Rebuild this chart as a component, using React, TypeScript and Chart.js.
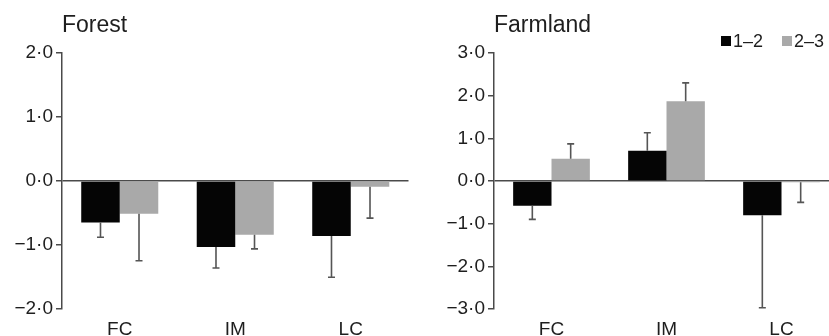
import React, { useEffect, useRef } from 'react';
import { Chart, registerables } from 'chart.js';
Chart.register(...registerables);

const categories = ['FC', 'IM', 'LC'];
const seriesLabels = ['1–2', '2–3'];
const seriesColors = ['#050505', '#a9a9a9'];

const forest12 = [-0.65, -1.03, -0.86];
const forest12Err = [0.23, 0.33, 0.645];
const forest23 = [-0.51, -0.84, -0.09];
const forest23Err = [0.735, 0.22, 0.49];

const farm12 = [-0.58, 0.71, -0.8];
const farm12Err = [0.32, 0.42, 2.17];
const farm23 = [0.52, 1.87, -0.03];
const farm23Err = [0.35, 0.43, 0.47];

const forestTicks = [-2, -1, 0, 1, 2];
const farmTicks = [-3, -2, -1, 0, 1, 2, 3];

const FONT = "'Liberation Sans', Arial, sans-serif";
const AXIS_COLOR = '#4a4a4a';
const TEXT_COLOR = '#1e1e1e';

const fmt = (v: number) => (v < 0 ? '−' : '') + Math.abs(v).toFixed(1).replace('.', '·');

const errorBarPlugin = {
  id: 'errorBars',
  afterDatasetsDraw(chart: any) {
    const ctx = chart.ctx;
    const yScale = chart.scales.y;
    ctx.save();
    chart.data.datasets.forEach((ds: any, i: number) => {
      const meta = chart.getDatasetMeta(i);
      meta.data.forEach((el: any, j: number) => {
        const v = ds.data[j];
        const e = ds.errors[j];
        const end = v + (v >= 0 ? e : -e);
        const yEnd = yScale.getPixelForValue(end);
        ctx.strokeStyle = '#555555';
        ctx.lineWidth = 1.6;
        ctx.beginPath();
        ctx.moveTo(el.x, el.y);
        ctx.lineTo(el.x, yEnd);
        ctx.moveTo(el.x - 3.5, yEnd);
        ctx.lineTo(el.x + 3.5, yEnd);
        ctx.stroke();
      });
    });
    ctx.restore();
  },
};

const titlePlugin = {
  id: 'panelTitle',
  afterDraw(chart: any, _args: any, opts: any) {
    const ctx = chart.ctx;
    ctx.save();
    ctx.font = `23px ${FONT}`;
    ctx.fillStyle = TEXT_COLOR;
    ctx.textBaseline = 'alphabetic';
    ctx.textAlign = 'left';
    ctx.fillText(opts.text, chart.chartArea.left, 31.5);
    ctx.restore();
  },
};

const legendPlugin = {
  id: 'customLegend',
  afterDraw(chart: any, _args: any, opts: any) {
    if (!opts.show) return;
    const ctx = chart.ctx;
    ctx.save();
    ctx.font = `18px ${FONT}`;
    ctx.textBaseline = 'alphabetic';
    ctx.textAlign = 'left';
    let x = opts.x;
    chart.data.datasets.forEach((ds: any) => {
      ctx.fillStyle = ds.backgroundColor;
      ctx.fillRect(x, 36, 10, 10);
      ctx.fillStyle = TEXT_COLOR;
      ctx.fillText(ds.label, x + 12, 46.5);
      x += 61;
    });
    ctx.restore();
  },
};

function Panel(props: {
  title: string;
  s1: number[]; e1: number[]; s2: number[]; e2: number[];
  ticks: number[];
  width: number; axisWidth: number; padRight: number; legend: boolean; legendX: number;
}) {
  const ref = useRef<HTMLCanvasElement>(null);
  useEffect(() => {
    const { s1, e1, s2, e2, ticks } = props;
    const chart = new Chart(ref.current as HTMLCanvasElement, {
      type: 'bar',
      data: {
        labels: categories,
        datasets: [
          { label: seriesLabels[0], data: s1, errors: e1, backgroundColor: seriesColors[0], borderWidth: 0 } as any,
          { label: seriesLabels[1], data: s2, errors: e2, backgroundColor: seriesColors[1], borderWidth: 0 } as any,
        ],
      },
      options: {
        responsive: false,
        animation: false,
        devicePixelRatio: 1,
        layout: { padding: { top: 53, right: props.padRight, left: 0, bottom: 0 } },
        datasets: { bar: { categoryPercentage: 0.667, barPercentage: 1.0 } },
        plugins: {
          legend: { display: false },
          tooltip: { enabled: false },
          panelTitle: { text: props.title },
          customLegend: { show: props.legend, x: props.legendX },
        } as any,
        scales: {
          x: {
            grid: { display: false, drawTicks: false },
            border: { display: false },
            ticks: { color: TEXT_COLOR, font: { family: FONT, size: 19 }, padding: 9 },
            afterFit: (s: any) => { s.height = 27; },
          },
          y: {
            min: ticks[0],
            max: ticks[ticks.length - 1],
            afterBuildTicks: (s: any) => { s.ticks = ticks.map((v) => ({ value: v })); },
            afterFit: (s: any) => { s.width = props.axisWidth; },
            border: { display: true, color: AXIS_COLOR, width: 1.5 },
            grid: {
              drawOnChartArea: true,
              color: (c: any) => (c.tick && c.tick.value === 0 ? AXIS_COLOR : 'rgba(0,0,0,0)'),
              lineWidth: 1.5,
              tickColor: AXIS_COLOR,
              tickLength: 6,
            },
            ticks: {
              color: TEXT_COLOR,
              font: { family: FONT, size: 19 },
              padding: 3,
              callback: (v: any) => fmt(Number(v)),
            },
          },
        },
      },
      plugins: [errorBarPlugin, titlePlugin, legendPlugin],
    } as any);
    return () => chart.destroy();
  }, []);
  return (
    <canvas ref={ref} width={props.width} height={336} style={{ width: props.width, height: 336, display: 'block' }} />
  );
}

export default function App() {
  return (
    <div style={{ position: 'absolute', left: 0, top: 0, width: 829, height: 336, overflow: 'hidden', background: '#fff' }}>
      <div style={{ position: 'absolute', left: 0, top: 0 }}>
        <Panel title="Forest" s1={forest12} e1={forest12Err} s2={forest23} e2={forest23Err} ticks={forestTicks}
          width={415} axisWidth={62} padRight={6.5} legend={false} legendX={0} />
      </div>
      <div style={{ position: 'absolute', left: 415, top: 0 }}>
        <Panel title="Farmland" s1={farm12} e1={farm12Err} s2={farm23} e2={farm23Err} ticks={farmTicks}
          width={424} axisWidth={79} padRight={0} legend={true} legendX={306} />
      </div>
    </div>
  );
}
